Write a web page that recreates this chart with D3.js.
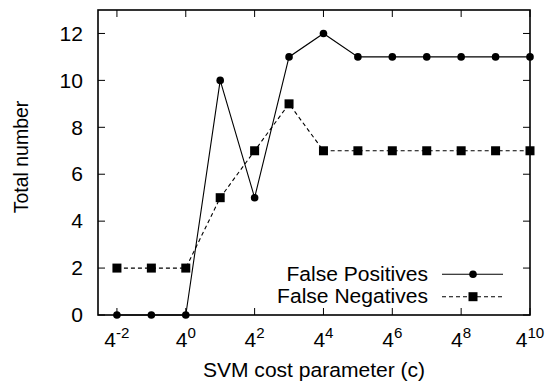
<!DOCTYPE html>
<html>
<head>
<meta charset="utf-8">
<script src="https://cdn.jsdelivr.net/npm/d3@7"></script>
<style>
  body { margin: 0; background: #fff; }
  text { font-family: "Liberation Sans", Arial, sans-serif; fill: #000; }
</style>
</head>
<body>
<div id="chart"></div>
<script>
// data: x is the exponent of 4
var exponents = [-2, -1, 0, 1, 2, 3, 4, 5, 6, 7, 8, 9, 10];
var falsePositives = [0, 0, 0, 10, 5, 11, 12, 11, 11, 11, 11, 11, 11];
var falseNegatives = [2, 2, 2, 5, 7, 9, 7, 7, 7, 7, 7, 7, 7];
var xTickExps = [-2, 0, 2, 4, 6, 8, 10];
var yTicks = [0, 2, 4, 6, 8, 10, 12];

var width = 549, height = 381;
var margin = {left: 98, right: 19, top: 10, bottom: 66};
var fontSize = 19.5;
var stretch = 1.08;   // the original text is a bit wide

var svg = d3.select("#chart").append("svg")
  .attr("width", width)
  .attr("height", height);

// log base 4 x scale
var x = d3.scaleLog().base(4)
  .domain([Math.pow(4, -2.55), Math.pow(4, 10)])
  .range([margin.left, width - margin.right]);
var y = d3.scaleLinear()
  .domain([0, 13])
  .range([height - margin.bottom, margin.top]);

var x0 = margin.left, x1 = width - margin.right;
var y0 = height - margin.bottom, y1 = margin.top;
var tick = 7;

// helper for wide text
function label(px, py, anchor, rot) {
  var t = "translate(" + px + "," + py + ")";
  t += rot ? " rotate(-90)" : " scale(" + stretch + ",1)";
  return svg.append("text")
    .attr("transform", t)
    .attr("text-anchor", anchor)
    .attr("font-size", fontSize);
}

// ticks (gnuplot style, inward + mirrored)
var g = svg.append("g").attr("stroke", "#000").attr("stroke-width", 1);
yTicks.forEach(function(v) {
  g.append("line").attr("x1", x0).attr("x2", x0 + tick).attr("y1", y(v)).attr("y2", y(v));
  g.append("line").attr("x1", x1).attr("x2", x1 - tick).attr("y1", y(v)).attr("y2", y(v));
});
xTickExps.forEach(function(e) {
  var px = x(Math.pow(4, e));
  g.append("line").attr("x1", px).attr("x2", px).attr("y1", y0).attr("y2", y0 - tick);
  g.append("line").attr("x1", px).attr("x2", px).attr("y1", y1).attr("y2", y1 + tick);
});

// y tick labels
yTicks.forEach(function(v) {
  label(x0 - 15, y(v) + 7.2, "end").text(v);
});

// x tick labels: 4 with superscript
xTickExps.forEach(function(e) {
  var t = label(x(Math.pow(4, e)), 347.3, "middle");
  t.append("tspan").text("4");
  t.append("tspan").attr("dy", -9).attr("font-size", 14).text(e);
});

// axis titles
label((x0 + x1) / 2, 376.5, "middle").text("SVM cost parameter (c)");
label(28, 157, "middle", true).text("Total number");

// lines
var line = d3.line()
  .x(function(d) { return x(Math.pow(4, d[0])); })
  .y(function(d) { return y(d[1]); });

var fpData = exponents.map(function(e, i) { return [e, falsePositives[i]]; });
var fnData = exponents.map(function(e, i) { return [e, falseNegatives[i]]; });

svg.append("path").datum(fpData)
  .attr("d", line)
  .attr("fill", "none").attr("stroke", "#000").attr("stroke-width", 1.1);
svg.append("path").datum(fnData)
  .attr("d", line)
  .attr("fill", "none").attr("stroke", "#000").attr("stroke-width", 1.1)
  .attr("stroke-dasharray", "4,3");

svg.selectAll(".fp").data(fpData).enter().append("circle")
  .attr("cx", function(d) { return x(Math.pow(4, d[0])); })
  .attr("cy", function(d) { return y(d[1]); })
  .attr("r", 3.8)
  .attr("fill", "#000");
var sq = 9;
svg.selectAll(".fn").data(fnData).enter().append("rect")
  .attr("x", function(d) { return x(Math.pow(4, d[0])) - sq / 2; })
  .attr("y", function(d) { return y(d[1]) - sq / 2; })
  .attr("width", sq).attr("height", sq)
  .attr("fill", "#000");

// frame
svg.append("rect")
  .attr("x", x0).attr("y", y1)
  .attr("width", x1 - x0).attr("height", y0 - y1)
  .attr("fill", "none").attr("stroke", "#000").attr("stroke-width", 1.6);

// legend
var legend = [
  {label: "False Positives", dash: null, marker: "circle", yy: 274.3},
  {label: "False Negatives", dash: "4,3", marker: "square", yy: 296.7}
];
legend.forEach(function(l) {
  label(428, l.yy + 6.5, "end").text(l.label);
  svg.append("line")
    .attr("x1", 442).attr("x2", 503).attr("y1", l.yy).attr("y2", l.yy)
    .attr("stroke", "#000").attr("stroke-width", 1.1)
    .attr("stroke-dasharray", l.dash);
  if (l.marker == "circle") {
    svg.append("circle").attr("cx", 473).attr("cy", l.yy).attr("r", 3.8).attr("fill", "#000");
  } else {
    svg.append("rect").attr("x", 473 - sq / 2).attr("y", l.yy - sq / 2)
      .attr("width", sq).attr("height", sq).attr("fill", "#000");
  }
});
</script>
</body>
</html>
